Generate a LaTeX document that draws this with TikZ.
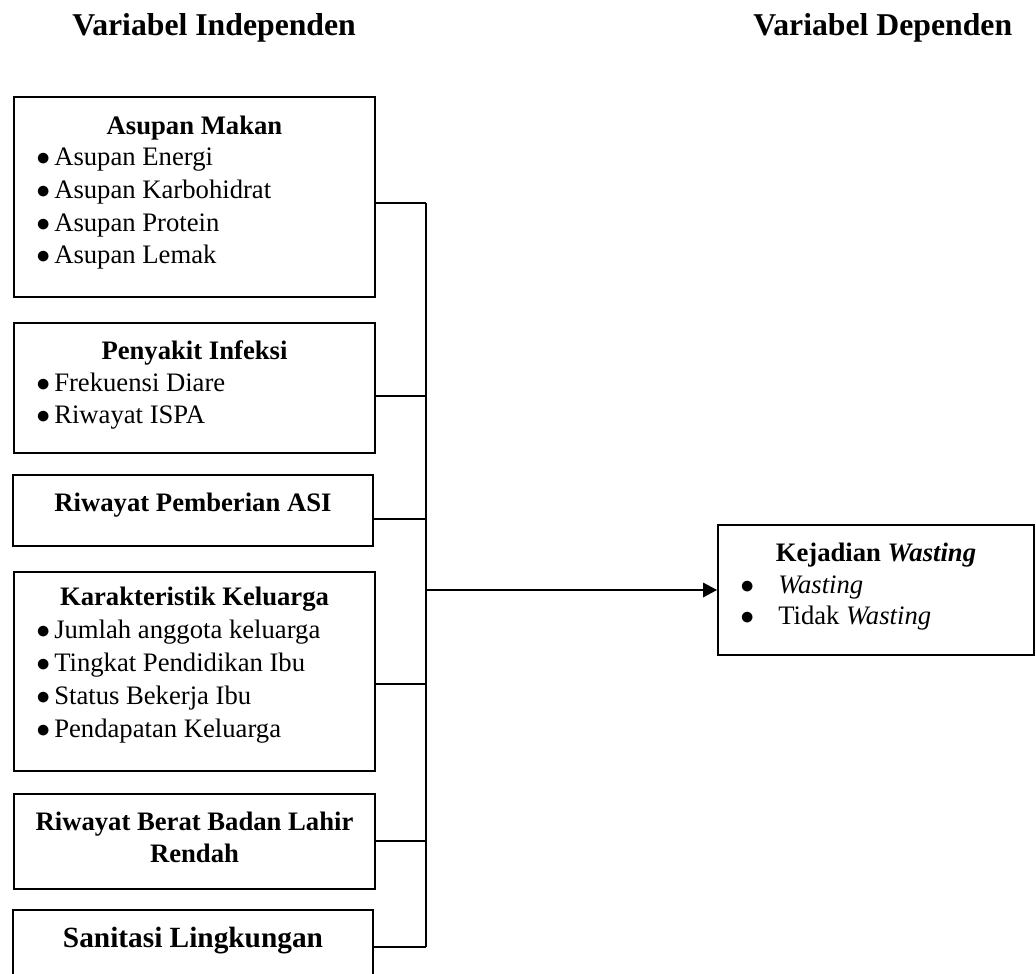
\documentclass[tikz,border=0pt]{standalone}
\usepackage{fontspec}
\setmainfont{Liberation Serif}
\usetikzlibrary{arrows.meta}
\begin{document}
\begin{tikzpicture}[x=0.75pt,y=-0.75pt,
  box/.style={draw=black,line width=1.5pt,rectangle,inner sep=0pt},
  conn/.style={draw=black,line width=0.95pt},
  txt/.style={inner sep=0pt,font=\fontsize{20pt}{24pt}\selectfont},
  head/.style={txt,anchor=base,font=\fontsize{20pt}{24pt}\selectfont\bfseries},
  item/.style={txt,anchor=base west},
  ttl/.style={inner sep=0pt,anchor=base west,font=\fontsize{23.8pt}{28pt}\selectfont\bfseries}
]
\clip (0,0) rectangle (1036,974);
\newcommand{\bl}{\makebox[13.5pt][l]{$\bullet$}}
\newcommand{\br}{\makebox[28.5pt][l]{$\bullet$}}
% titles
\node[ttl] (tin) at (72,36) {Variabel Independen};
\node[ttl] (tdep) at (753,36) {Variabel Dependen};
% boxes
\node[box,minimum width=361*0.75pt,minimum height=200*0.75pt] (b1) at (194.5,197) {};
\node[box,minimum width=361*0.75pt,minimum height=130*0.75pt] (b2) at (194.5,388) {};
\node[box,minimum width=360*0.75pt,minimum height=71*0.75pt] (b3) at (193,510.5) {};
\node[box,minimum width=361*0.75pt,minimum height=199*0.75pt] (b4) at (194.5,671.5) {};
\node[box,minimum width=361*0.75pt,minimum height=95*0.75pt] (b5) at (194.5,841.5) {};
\node[box,minimum width=360*0.75pt,minimum height=80*0.75pt] (b6) at (193,950) {};
\node[box,minimum width=316*0.75pt,minimum height=130*0.75pt] (dep) at (876,590) {};
% box 1
\node[head] (h1) at (194.5,134) {Asupan Makan};
\node[item] (i11) at (36,166) {\bl Asupan Energi};
\node[item] (i12) at (36,198) {\bl Asupan Karbohidrat};
\node[item] (i13) at (36,231) {\bl Asupan Protein};
\node[item] (i14) at (36,263) {\bl Asupan Lemak};
% box 2
\node[head] (h2) at (194.5,359) {Penyakit Infeksi};
\node[item] (i21) at (36,391) {\bl Frekuensi Diare};
\node[item] (i22) at (36,423) {\bl Riwayat ISPA};
% box 3
\node[head] (h3) at (193,511) {Riwayat Pemberian ASI};
% box 4
\node[head] (h4) at (194.5,605) {Karakteristik Keluarga};
\node[item] (i41) at (36,638) {\bl Jumlah anggota keluarga};
\node[item] (i42) at (36,671) {\bl Tingkat Pendidikan Ibu};
\node[item] (i43) at (36,704) {\bl Status Bekerja Ibu};
\node[item] (i44) at (36,737) {\bl Pendapatan Keluarga};
% box 5
\node[head] (h5) at (194.5,830) {Riwayat Berat Badan Lahir};
\node[head] (h5b) at (194.5,862) {Rendah};
% box 6
\node[head,font=\fontsize{22pt}{26pt}\selectfont\bfseries] (h6) at (193,947) {Sanitasi Lingkungan};
% dependent box
\node[head] (hd) at (876,561) {Kejadian \textit{Wasting}};
\node[item] (id1) at (740,593) {\br\textit{Wasting}};
\node[item] (id2) at (740,624) {\br Tidak \textit{Wasting}};
% trunk coordinates
\coordinate (t1) at (426,203);
\coordinate (t2) at (426,396);
\coordinate (t3) at (426,519);
\coordinate (t4) at (426,684);
\coordinate (t5) at (426,841);
\coordinate (t6) at (426,947);
\coordinate (ta) at (426,590);
% connectors
\draw[conn] (b1.east |- t1) -- (t1);
\draw[conn] (b2.east |- t2) -- (t2);
\draw[conn] (b3.east |- t3) -- (t3);
\draw[conn] (b4.east |- t4) -- (t4);
\draw[conn] (b5.east |- t5) -- (t5);
\draw[conn] (b6.east |- t6) -- (t6);
\draw[conn] (t1) -- (t6);
\draw[conn,-{Triangle[length=10.5pt,width=11pt]}] (ta) -- (dep.west |- ta);
\end{tikzpicture}
\end{document}
